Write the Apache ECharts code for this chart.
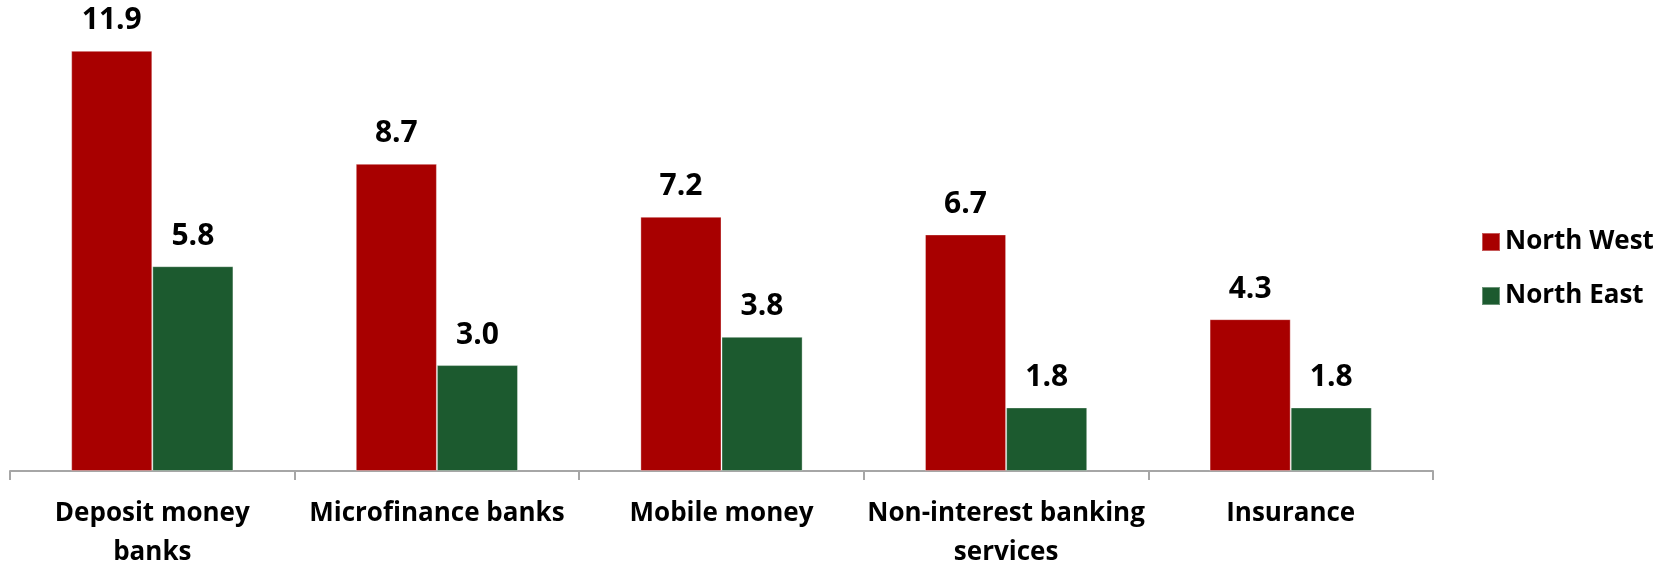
<!DOCTYPE html>
<html>
<head>
<meta charset="utf-8">
<script src="https://cdn.jsdelivr.net/npm/echarts@6/dist/echarts.min.js"></script>
<style>
html,body{margin:0;padding:0;background:#fff;}
#chart{width:1673px;height:563px;}
</style>
</head>
<body>
<div id="chart"></div>
<script>
const categories = ["Deposit money\nbanks", "Microfinance banks", "Mobile money", "Non-interest banking\nservices", "Insurance"];
const seriesNames = ["North West", "North East"];
const northWest = [11.9, 8.7, 7.2, 6.7, 4.3];
const northEast = [5.8, 3.0, 3.8, 1.8, 1.8];

const FONT = "Open Sans";
const chart = echarts.init(document.getElementById('chart'), null, {renderer: 'canvas'});
const labelStyle = {
  show: true,
  position: 'top',
  distance: 15,
  fontFamily: FONT,
  fontWeight: 'bold',
  fontSize: 30,
  color: '#000',
  formatter: p => p.value.toFixed(1)
};
chart.setOption({
  animation: false,
  backgroundColor: '#fff',
  grid: {left: 10, right: 240, top: 12, bottom: 92, containLabel: false, outerBoundsMode: 'none'},
  legend: {
    orient: 'vertical',
    left: 1476,
    top: 224,
    itemWidth: 18,
    itemHeight: 18,
    itemGap: 28,
    icon: 'rect',
    textStyle: {fontFamily: FONT, fontWeight: 'bold', fontSize: 26, color: '#000'},
    data: seriesNames
  },
  xAxis: {
    type: 'category',
    data: categories,
    axisLine: {lineStyle: {color: '#A6A6A6', width: 2}},
    axisTick: {show: true, length: 9, lineStyle: {color: '#A6A6A6', width: 2}},
    axisLabel: {
      fontFamily: FONT, fontWeight: 'bold', fontSize: 26, color: '#000',
      margin: 23, lineHeight: 39, interval: 0
    }
  },
  yAxis: {
    type: 'value', min: 0, max: 13, show: false,
    splitLine: {show: false}
  },
  series: [
    {
      name: seriesNames[0], type: 'bar', data: northWest,
      barGap: '0%', barCategoryGap: '43%',
      itemStyle: {color: '#A80000', borderColor: 'rgba(255,255,255,0.35)', borderWidth: 1},
      label: labelStyle
    },
    {
      name: seriesNames[1], type: 'bar', data: northEast,
      itemStyle: {color: '#1C5A2F', borderColor: 'rgba(255,255,255,0.35)', borderWidth: 1},
      label: labelStyle
    }
  ]
});
</script>
</body>
</html>
